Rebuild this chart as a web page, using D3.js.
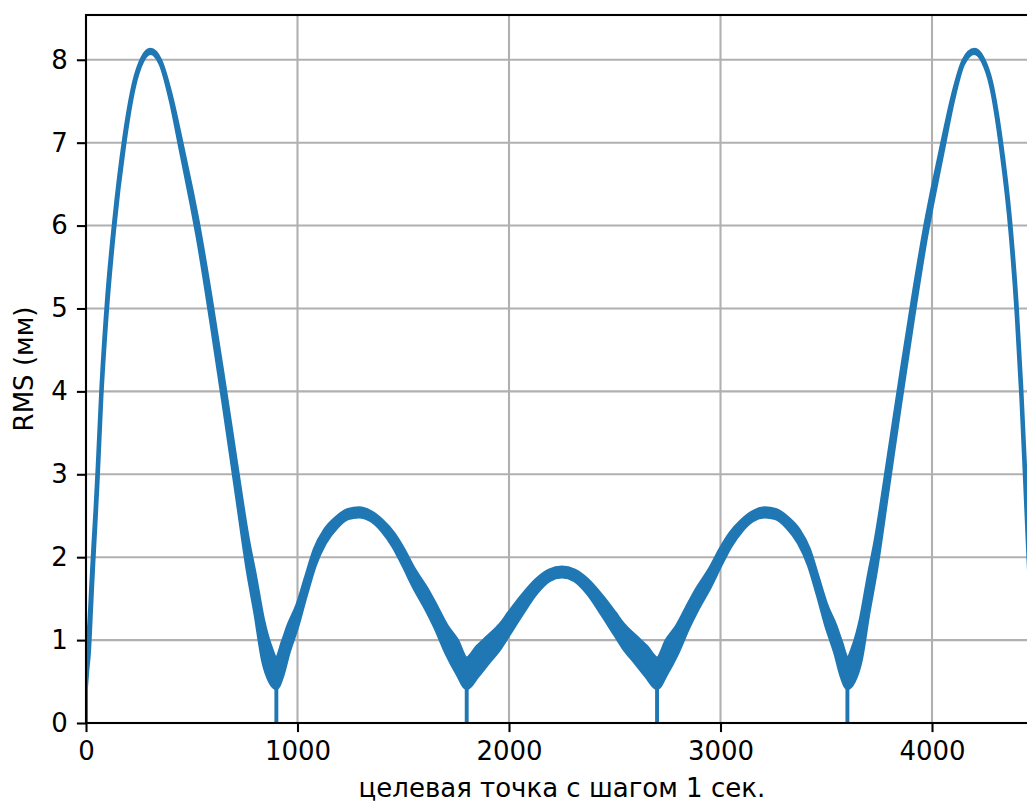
<!DOCTYPE html>
<html>
<head>
<meta charset="utf-8">
<script src="https://cdn.jsdelivr.net/npm/d3@7"></script>
<style>
  html, body { margin: 0; padding: 0; background: #fff; }
  svg { display: block; font-family: "DejaVu Sans", sans-serif; }
</style>
</head>
<body>
<svg id="chart" width="1027" height="803"></svg>
<script>
// target point index (1 s step)
const xs = [
  0, 6, 14, 25, 34, 45, 55, 73, 98, 133, 180, 227, 266, 305, 352, 400, 446, 500, 525, 590, 650, 708, 767, 800, 837, 870, 900,
  930, 956, 1000, 1040, 1082, 1130, 1185, 1240, 1290, 1350, 1400, 1453, 1500, 1550, 1611, 1650, 1706, 1754, 1800,
  1850, 1900, 1960, 2000, 2060, 2130, 2190, 2250, 2310, 2370, 2440, 2500, 2540, 2600, 2650, 2700,
  2746, 2794, 2850, 2889, 2950, 3000, 3047, 3100, 3150, 3210, 3260, 3315, 3370, 3418, 3460, 3500, 3544, 3570, 3600,
  3630, 3663, 3700, 3733, 3792, 3850, 3910, 3975, 4000, 4054, 4100, 4148, 4200, 4240, 4280, 4325, 4370, 4400, 4422, 4440, 4452, 4466
];
// RMS (mm), middle of the band
const rmsMid = [
  0.6, 0.8, 1.0, 1.55, 2.0, 2.5, 3.0, 4.0, 5.0, 6.0, 7.0, 7.7, 8.0, 8.1, 7.97, 7.55, 7.0, 6.33, 6.0, 5.0, 4.0, 3.0, 2.0, 1.55, 1.0, 0.72, 0.6,
  0.78, 1.0, 1.3, 1.65, 2.0, 2.25, 2.42, 2.52, 2.54, 2.49, 2.38, 2.21, 2.0, 1.75, 1.49, 1.3, 1.0, 0.8, 0.6,
  0.74, 0.88, 1.05, 1.2, 1.42, 1.65, 1.78, 1.82, 1.78, 1.65, 1.42, 1.2, 1.05, 0.88, 0.74, 0.6,
  0.8, 1.0, 1.3, 1.49, 1.75, 2.0, 2.21, 2.38, 2.49, 2.54, 2.52, 2.42, 2.25, 2.0, 1.65, 1.3, 1.0, 0.78, 0.6,
  0.72, 1.0, 1.55, 2.0, 3.0, 4.0, 5.0, 6.0, 6.33, 7.0, 7.55, 7.97, 8.1, 8.0, 7.7, 7.0, 6.0, 5.0, 4.0, 3.0, 2.3, 1.55
];
// half thickness of the oscillation band
const rmsSpread = [
  0.18, 0.18, 0.16, 0.14, 0.12, 0.1, 0.1, 0.08, 0.08, 0.06, 0.05, 0.03, 0.02, 0.02, 0.02, 0.04, 0.07, 0.09, 0.1, 0.13, 0.15, 0.17, 0.2, 0.22, 0.25, 0.22, 0.18,
  0.2, 0.17, 0.13, 0.11, 0.1, 0.08, 0.06, 0.05, 0.05, 0.05, 0.06, 0.08, 0.1, 0.11, 0.13, 0.14, 0.17, 0.2, 0.18,
  0.18, 0.16, 0.14, 0.13, 0.11, 0.08, 0.06, 0.055, 0.06, 0.08, 0.11, 0.13, 0.14, 0.16, 0.18, 0.18,
  0.2, 0.17, 0.14, 0.13, 0.11, 0.1, 0.08, 0.06, 0.05, 0.05, 0.05, 0.06, 0.08, 0.1, 0.11, 0.13, 0.17, 0.2, 0.18,
  0.22, 0.25, 0.22, 0.2, 0.17, 0.15, 0.13, 0.1, 0.09, 0.07, 0.04, 0.02, 0.02, 0.02, 0.03, 0.05, 0.06, 0.08, 0.08, 0.1, 0.1, 0.14
];
// points where RMS drops to zero
const dropouts = [0, 900, 1800, 2700, 3600];

const xTicks = [0, 1000, 2000, 3000, 4000];
const yTicks = [0, 1, 2, 3, 4, 5, 6, 7, 8];

const blue = "#1f77b4";
const mLeft = 86, mTop = 15, mBottom = 723;
const plotW = 951.75;

const svg = d3.select("#chart");

const x = d3.scaleLinear().domain([0, 4500]).range([mLeft, mLeft + plotW]);
const y = d3.scaleLinear().domain([0, 8.54]).range([mBottom, mTop]);

const data = xs.map((v, i) => ({ x: v, lo: rmsMid[i] - rmsSpread[i], hi: rmsMid[i] + rmsSpread[i] }));

// grid
const grid = svg.append("g");
grid.selectAll(".gx").data(xTicks).enter().append("line")
  .attr("x1", d => x(d)).attr("x2", d => x(d))
  .attr("y1", mTop).attr("y2", mBottom)
  .attr("stroke", "#b0b0b0").attr("stroke-width", 2.08);
grid.selectAll(".gy").data(yTicks).enter().append("line")
  .attr("x1", mLeft).attr("x2", mLeft + plotW)
  .attr("y1", d => y(d)).attr("y2", d => y(d))
  .attr("stroke", "#b0b0b0").attr("stroke-width", 2.08);

svg.append("clipPath").attr("id", "clip")
  .append("rect").attr("x", mLeft).attr("y", mTop).attr("width", plotW).attr("height", mBottom - mTop);

const plot = svg.append("g").attr("clip-path", "url(#clip)");

const band = d3.area()
  .curve(d3.curveMonotoneX)
  .x(d => x(d.x))
  .y0(d => y(d.lo))
  .y1(d => y(d.hi));

plot.append("path")
  .datum(data)
  .attr("d", band)
  .attr("fill", blue)
  .attr("stroke", blue)
  .attr("stroke-width", 3.9)
  .attr("stroke-linejoin", "round");

// drops to zero
plot.selectAll(".drop").data(dropouts).enter().append("line")
  .attr("x1", d => x(d)).attr("x2", d => x(d))
  .attr("y1", y(0))
  .attr("y2", d => y(data.find(p => p.x === d).lo))
  .attr("stroke", blue).attr("stroke-width", 3.9);

// spines
svg.append("rect")
  .attr("x", mLeft).attr("y", mTop)
  .attr("width", plotW).attr("height", mBottom - mTop)
  .attr("fill", "none").attr("stroke", "#000").attr("stroke-width", 2.08);

// axes
const xAxis = svg.append("g")
  .attr("transform", `translate(0,${mBottom})`)
  .call(d3.axisBottom(x).tickValues(xTicks).tickFormat(d3.format("d")).tickSize(9.1).tickPadding(9.1).tickSizeOuter(0));
const yAxis = svg.append("g")
  .attr("transform", `translate(${mLeft},0)`)
  .call(d3.axisLeft(y).tickValues(yTicks).tickFormat(d3.format("d")).tickSize(9.1).tickPadding(9.1).tickSizeOuter(0));

[xAxis, yAxis].forEach(g => {
  g.select(".domain").remove();
  g.selectAll("line").attr("stroke", "#000").attr("stroke-width", 2.08);
  g.selectAll("text").attr("fill", "#000").style("font-size", "26px").style("font-family", "DejaVu Sans");
});

svg.append("text")
  .attr("x", mLeft + plotW / 2).attr("y", 797)
  .attr("text-anchor", "middle")
  .style("font-size", "26px")
  .text("целевая точка с шагом 1 сек.");

svg.append("text")
  .attr("transform", `translate(33,${(mTop + mBottom) / 2}) rotate(-90)`)
  .attr("text-anchor", "middle")
  .style("font-size", "26px")
  .text("RMS (мм)");
</script>
</body>
</html>
